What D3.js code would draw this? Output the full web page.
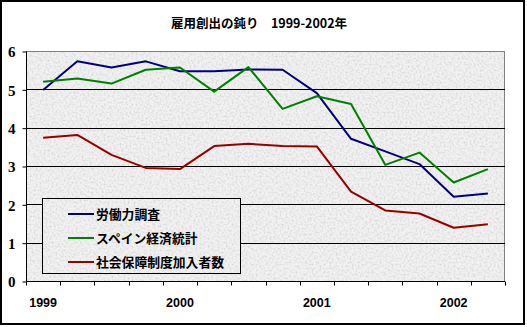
<!DOCTYPE html>
<html><head><meta charset="utf-8">
<script src="https://cdn.jsdelivr.net/npm/d3@7"></script>
<style>body{margin:0;background:#fff}svg{display:block}</style>
</head><body>
<script>
const title = "雇用創出の鈍り　1999-2002年";
const quarters = ["1999Q1","1999Q2","1999Q3","1999Q4","2000Q1","2000Q2","2000Q3","2000Q4","2001Q1","2001Q2","2001Q3","2001Q4","2002Q1","2002Q2"];
const yearLabels = {"1999Q1":"1999","2000Q1":"2000","2001Q1":"2001","2002Q1":"2002"};
const yTicks = [0,1,2,3,4,5,6];
const seriesNames = ["労働力調査","スペイン経済統計","社会保障制度加入者数"];
const lfs = [4.98,5.73,5.57,5.73,5.47,5.47,5.52,5.51,4.90,3.71,3.38,3.05,2.20,2.28];
const spainStats = [5.20,5.28,5.15,5.51,5.57,4.94,5.58,4.49,4.82,4.62,3.03,3.35,2.57,2.92];
const socialSec = [3.74,3.81,3.29,2.95,2.92,3.52,3.58,3.52,3.51,2.33,1.84,1.76,1.39,1.48];
const colors = ["#000080","#008000","#990000"];
const seriesValues = [lfs, spainStats, socialSec];

const W=527,H=327;
const svg=d3.select("body").append("svg").attr("width",W).attr("height",H);
const defs=svg.append("defs");
const f=defs.append("filter").attr("id","noise").attr("x",0).attr("y",0).attr("width","100%").attr("height","100%");
f.append("feTurbulence").attr("type","fractalNoise").attr("baseFrequency",0.5).attr("numOctaves",3).attr("seed",3).attr("result","t");
f.append("feColorMatrix").attr("in","t").attr("type","matrix")
 .attr("values","0 0 0 0 0.5  0 0 0 0 0.5  0 0 0 0 0.5  0 0 0 -2.2 1.3").attr("result","n");
f.append("feComposite").attr("in","n").attr("in2","SourceGraphic").attr("operator","in");

svg.append("rect").attr("x",1).attr("y",1).attr("width",523).attr("height",323)
  .attr("fill","#fff").attr("stroke","#000").attr("stroke-width",2);

const L=26,R=505,T=51,B=281;
const x=d3.scaleBand().domain(quarters).range([L,R]);
const y=d3.scaleLinear().domain([0,6]).range([B,T]);

function texture(g,x0,y0,w,h){
  g.append("rect").attr("x",x0).attr("y",y0).attr("width",w).attr("height",h).attr("fill","#f2f2f2");
  g.append("rect").attr("x",x0).attr("y",y0).attr("width",w).attr("height",h).attr("fill","#000").attr("filter","url(#noise)").attr("opacity",0.5);
}
const pg=svg.append("g");
texture(pg,L,T,R-L,B-T);
pg.append("rect").attr("x",L+0.5).attr("y",T+0.5).attr("width",R-L-1).attr("height",B-T).attr("fill","none").attr("stroke","#808080");

// gridlines
svg.append("g").selectAll("line").data(yTicks.filter(d=>d>0&&d<6)).join("line")
  .attr("x1",L).attr("x2",R).attr("y1",d=>Math.round(y(d))+0.5).attr("y2",d=>Math.round(y(d))+0.5)
  .attr("stroke","#000");

// y axis
const ya=svg.append("g").attr("transform",`translate(${L+0.5},0.5)`)
  .call(d3.axisLeft(y).tickValues(yTicks).tickSize(4).tickPadding(7).tickFormat(d3.format("d")));
ya.attr("font-family",null);
ya.select(".domain").attr("stroke","#000").attr("d",`M0,${T}V${B}`);
ya.selectAll("text").style("font-family","'Liberation Serif', serif").style("font-weight","bold").style("font-size","15px").attr("fill","#000").attr("dy","0.35em");

// x axis
const xa=svg.append("g").attr("transform",`translate(0,${B+0.5})`);
xa.append("line").attr("x1",L).attr("x2",R).attr("stroke","#000");
const bounds=quarters.map(q=>x(q)).concat([R]);
xa.selectAll("line.tk").data(bounds).join("line").attr("class","tk")
  .attr("x1",d=>Math.round(d)+0.5).attr("x2",d=>Math.round(d)+0.5).attr("y1",0).attr("y2",4).attr("stroke","#000");
xa.selectAll("text").data(quarters.filter(q=>yearLabels[q])).join("text")
  .attr("x",q=>x(q)+x.bandwidth()/2).attr("y",25).attr("text-anchor","middle")
  .attr("font-family","Liberation Sans, Arial").attr("font-weight","bold").attr("font-size","12.5px")
  .text(q=>yearLabels[q]);

// lines
const line=d3.line().x((d,i)=>x(quarters[i])+x.bandwidth()/2).y(d=>y(d));
svg.append("g").selectAll("path").data(seriesValues).join("path")
  .attr("d",line).attr("fill","none").attr("stroke",(d,i)=>colors[i]).attr("stroke-width",2).attr("stroke-linejoin","round");

// legend
const lg=svg.append("g");
texture(lg,42,198,199,75);
lg.append("rect").attr("x",42.5).attr("y",198.5).attr("width",198).attr("height",75).attr("fill","none").attr("stroke","#000");
seriesNames.forEach((n,i)=>{
  const yy=[214,238,262][i];
  lg.append("line").attr("x1",68).attr("x2",94).attr("y1",yy).attr("y2",yy).attr("stroke",colors[i]).attr("stroke-width",2);
  lg.append("text").attr("x",96).attr("y",yy).attr("dy","0.36em")
    .attr("font-family","Noto Sans CJK JP").attr("font-weight","bold").attr("font-size","12.8px").text(n);
});

// title
svg.append("text").attr("x",259).attr("y",28).attr("text-anchor","middle")
  .attr("font-family","Noto Sans CJK JP").attr("font-weight","bold").attr("font-size","12.5px").text(title);
</script>
</body></html>
